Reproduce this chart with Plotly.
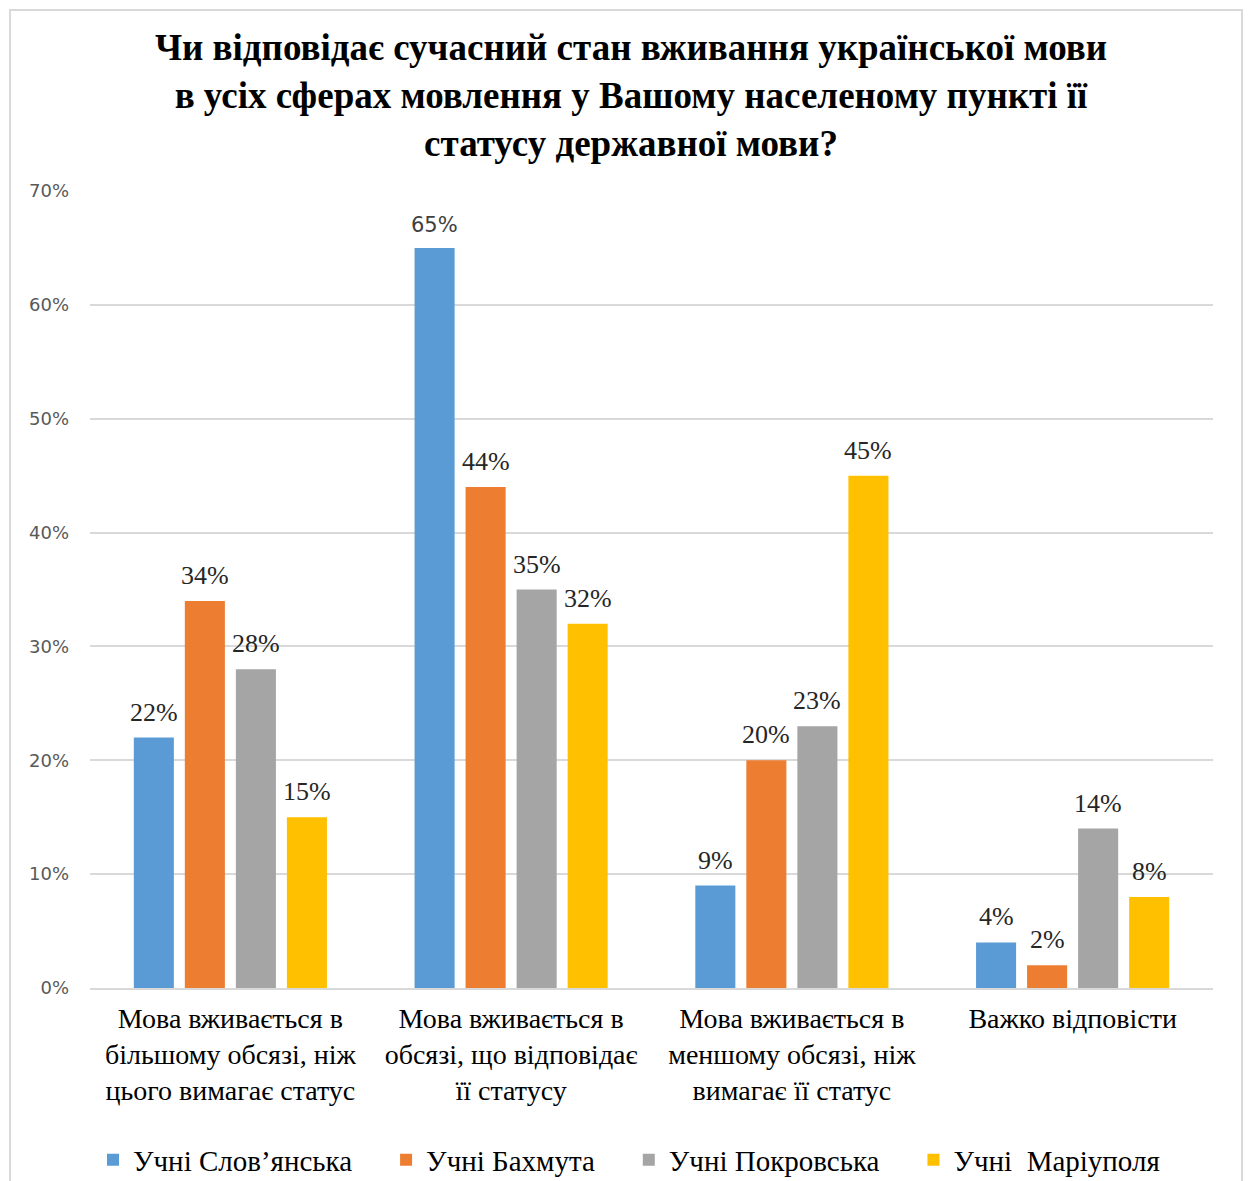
import plotly.graph_objects as go

# ---- data ----
categories = [
    "Мова вживається в<br>більшому обсязі, ніж<br>цього вимагає статус",
    "Мова вживається в<br>обсязі, що відповідає<br>її статусу",
    "Мова вживається в<br>меншому обсязі, ніж<br>вимагає її статус",
    "Важко відповісти<br> <br> ",
]
series_names = ["Учні Слов’янська", "Учні Бахмута", "Учні Покровська", "Учні  Маріуполя"]
slovyansk = [0.22, 0.65, 0.09, 0.04]
bakhmut = [0.34, 0.44, 0.20, 0.02]
pokrovsk = [0.28, 0.35, 0.23, 0.14]
mariupol = [0.15, 0.32, 0.45, 0.08]

colors = ["#5b9bd5", "#ed7d31", "#a5a5a5", "#ffc000"]
SERIF = "Liberation Serif, Times New Roman, serif"
SANS = "DejaVu Sans, Verdana, sans-serif"

W, H = 1248, 1181
L, R, T, B = 90, 35, 191, 193
pw, ph = W - L - R, H - T - B
BARGAP, GROUPGAP = 0.273, 0.215
slot = pw / len(categories) * (1 - BARGAP) / len(series_names)  # px per bar slot

all_series = [slovyansk, bakhmut, pokrovsk, mariupol]
fig = go.Figure()
for i, (name, vals, col) in enumerate(zip(series_names, all_series, colors)):
    # a little padding after each legend entry, as in the original
    pad = "\u00a0" * 4 if i < len(series_names) - 1 else ""
    fig.add_trace(go.Bar(
        x=categories, y=vals, name=name + pad,
        marker=dict(color=col, line=dict(width=0)),
        hoverinfo="y",
    ))
    # value labels above the bars
    for c, v in zip(categories, vals):
        sans = v == 0.65  # this one label is in a sans font in the original
        fig.add_annotation(
            x=c, y=v, text=f"{round(v * 100)}%", showarrow=False,
            xshift=(i - 1.5) * slot, yanchor="bottom", yshift=9,
            font=dict(family=SANS if sans else SERIF, size=21 if sans else 26,
                      color="#404040" if sans else "#262626"),
        )

# light border round the whole chart
fig.add_shape(type="rect", xref="paper", yref="paper",
              x0=(10 - L) / pw, x1=(1242 - L) / pw,
              y0=-0.4, y1=(H - B - 10) / ph,
              line=dict(color="#d9d9d9", width=2), fillcolor="rgba(0,0,0,0)",
              layer="below")

fig.update_layout(
    width=W, height=H,
    margin=dict(l=L, r=R, t=T, b=B, autoexpand=False),
    paper_bgcolor="white", plot_bgcolor="white",
    barmode="group", bargap=BARGAP, bargroupgap=GROUPGAP,
    title=dict(
        text="Чи відповідає сучасний стан вживання української мови<br>"
             "в усіх сферах мовлення у Вашому населеному пункті її<br>"
             "статусу державної мови?",
        font=dict(family=SERIF, size=37, color="black", weight="bold"),
        x=631 / W, xanchor="center", xref="container",
        y=1 - 60 / H, yanchor="middle", yref="container",
    ),
    xaxis=dict(
        tickfont=dict(family=SERIF, size=28, color="black"),
        showline=True, linecolor="#d9d9d9", linewidth=2,
        ticks="", showgrid=False, automargin=False, ticklabelstandoff=4,
    ),
    yaxis=dict(
        range=[0, 0.7], dtick=0.1, tickformat=".0%",
        tickfont=dict(family=SANS, size=18, color="#595959"),
        showgrid=True, gridcolor="#d9d9d9", gridwidth=2,
        zeroline=False, showline=False, ticks="", ticklabelstandoff=20,
        automargin=False,
    ),
    legend=dict(
        orientation="h", x=629 / W, xanchor="center", xref="container",
        y=1 - 1160 / H, yanchor="middle", yref="container",
        font=dict(family=SERIF, size=29, color="black"),
        traceorder="normal",
    ),
    showlegend=True,
)

fig.write_html("out.html", config={"displayModeBar": False},
               post_script="document.body.style.margin='0';")
